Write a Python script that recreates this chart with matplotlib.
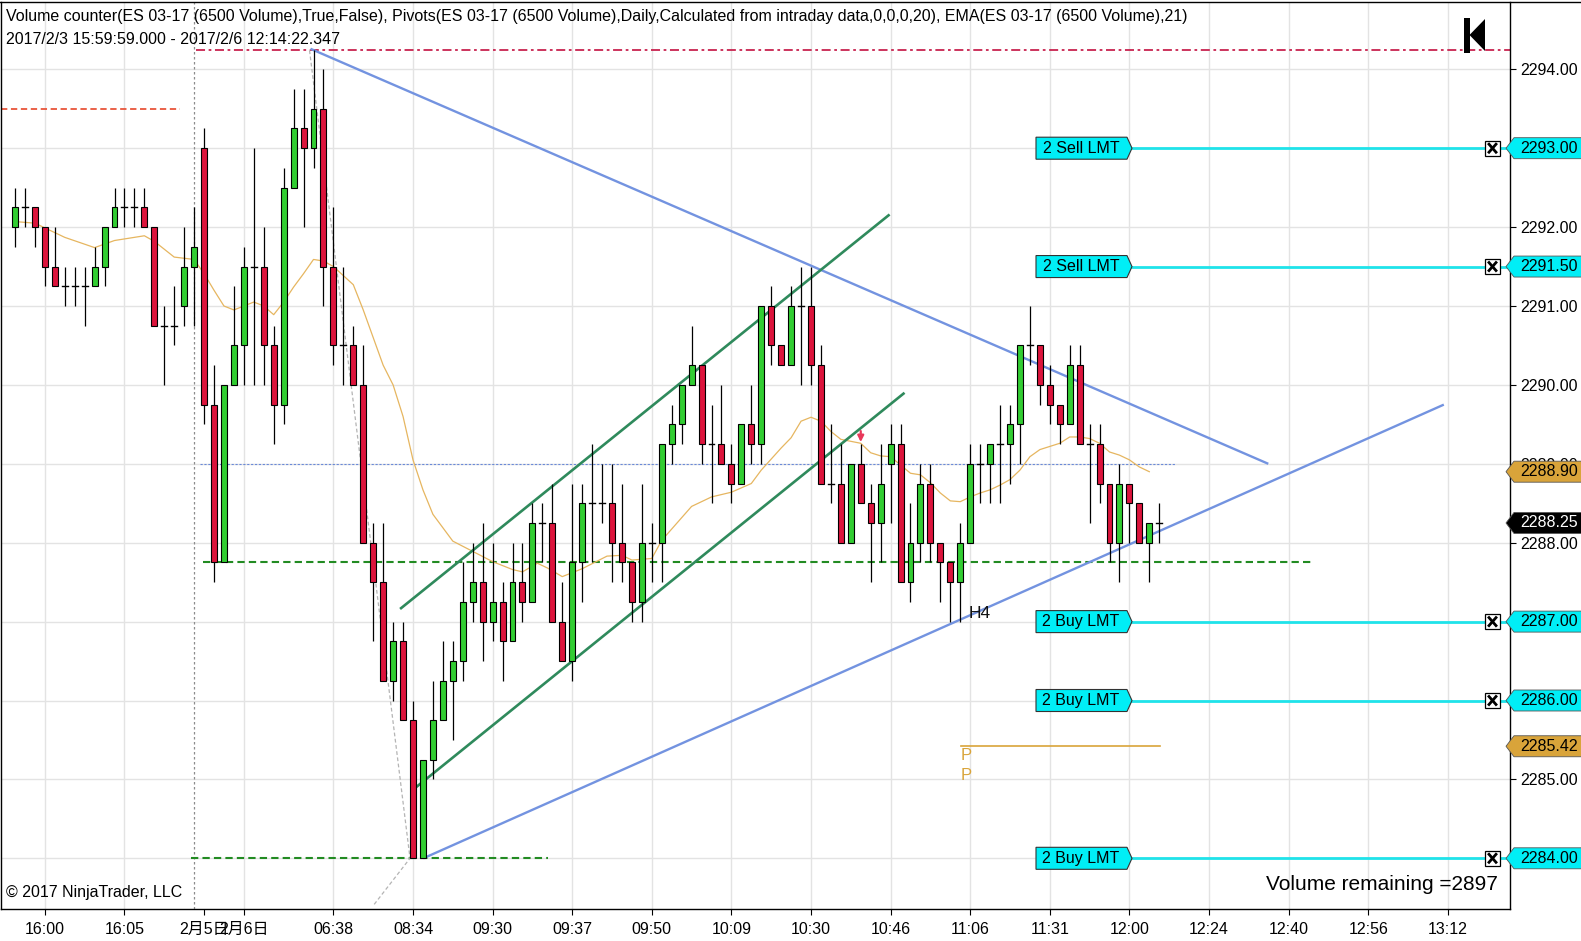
import matplotlib
matplotlib.use('Agg')
import matplotlib.pyplot as plt
from matplotlib.patches import Polygon, Rectangle

plt.rcParams['font.family'] = ['Liberation Sans', 'Noto Sans CJK SC', 'DejaVu Sans']

# ---- data (one bar per 6500 contracts) ----
opens = [2292.0, 2292.25, 2292.25, 2292.0, 2291.5, 2291.25, 2291.25, 2291.25, 2291.25, 2291.5,
         2292.0, 2292.25, 2292.25, 2292.25, 2292.0, 2290.75, 2290.75, 2291.0, 2291.5, 2293.0,
         2289.75, 2287.75, 2290.0, 2290.5, 2291.5, 2291.5, 2290.5, 2289.75, 2292.5, 2293.25,
         2293.0, 2293.5, 2291.5, 2290.5, 2290.5, 2290.0, 2288.0, 2287.5, 2286.25, 2286.75,
         2285.75, 2284.0, 2285.25, 2285.75, 2286.25, 2286.5, 2287.25, 2287.5, 2287.0, 2287.25,
         2286.75, 2287.5, 2287.25, 2288.25, 2288.25, 2287.0, 2286.5, 2287.75, 2288.5, 2288.5,
         2288.5, 2288.0, 2287.75, 2287.25, 2288.0, 2288.0, 2289.25, 2289.5, 2290.0, 2290.25,
         2289.25, 2289.25, 2289.0, 2288.75, 2289.5, 2289.25, 2291.0, 2290.5, 2290.25, 2291.0,
         2291.0, 2290.25, 2288.75, 2288.75, 2288.0, 2289.0, 2288.5, 2288.25, 2289.0, 2289.25,
         2287.5, 2288.0, 2288.75, 2288.0, 2287.75, 2287.5, 2288.0, 2289.0, 2289.0, 2289.25,
         2289.25, 2289.5, 2290.5, 2290.5, 2290.0, 2289.75, 2289.5, 2290.25, 2289.25, 2289.25,
         2288.75, 2288.0, 2288.75, 2288.5, 2288.0, 2288.25]
highs = [2292.5, 2292.5, 2292.25, 2292.0, 2292.0, 2291.5, 2291.5, 2291.5, 2291.75, 2292.0,
         2292.5, 2292.5, 2292.5, 2292.5, 2292.0, 2291.0, 2291.25, 2292.0, 2292.25, 2293.25,
         2290.25, 2290.0, 2291.25, 2291.75, 2293.0, 2292.0, 2290.75, 2292.75, 2293.75, 2293.75,
         2294.25, 2294.0, 2292.25, 2291.5, 2290.75, 2290.5, 2288.25, 2288.25, 2287.0, 2287.0,
         2286.0, 2285.25, 2286.25, 2286.75, 2286.75, 2287.75, 2288.0, 2288.25, 2288.0, 2287.5,
         2288.0, 2288.0, 2288.5, 2288.5, 2288.75, 2287.5, 2288.75, 2288.75, 2289.25, 2289.0,
         2289.0, 2288.75, 2287.75, 2288.75, 2288.25, 2289.25, 2289.75, 2290.0, 2290.75, 2290.25,
         2289.75, 2290.0, 2289.25, 2289.5, 2290.0, 2291.0, 2291.25, 2290.5, 2291.25, 2291.5,
         2291.5, 2290.5, 2289.5, 2289.25, 2289.0, 2289.25, 2288.75, 2289.25, 2289.5, 2289.5,
         2288.5, 2289.0, 2289.0, 2288.0, 2287.75, 2288.25, 2289.25, 2289.25, 2289.25, 2289.75,
         2289.75, 2290.5, 2291.0, 2290.5, 2290.25, 2289.75, 2290.5, 2290.5, 2289.5, 2289.5,
         2288.75, 2289.0, 2288.75, 2288.5, 2288.25, 2288.5]
lows = [2291.75, 2292.0, 2291.75, 2291.25, 2291.25, 2291.0, 2291.0, 2290.75, 2291.25, 2291.25,
        2292.0, 2292.0, 2292.0, 2292.0, 2290.75, 2290.0, 2290.5, 2290.75, 2290.75, 2289.5,
        2287.5, 2287.75, 2290.0, 2290.0, 2290.0, 2290.0, 2289.25, 2289.5, 2292.5, 2292.0,
        2292.75, 2291.0, 2290.25, 2290.0, 2290.0, 2288.0, 2286.75, 2286.25, 2286.0, 2285.75,
        2284.0, 2284.0, 2285.0, 2285.75, 2285.5, 2286.25, 2287.0, 2286.5, 2286.75, 2286.25,
        2286.75, 2287.0, 2287.25, 2287.75, 2287.0, 2286.5, 2286.25, 2287.25, 2287.75, 2288.25,
        2287.5, 2287.5, 2287.0, 2287.0, 2287.5, 2287.5, 2289.0, 2289.25, 2290.0, 2289.0,
        2288.5, 2289.0, 2288.5, 2288.75, 2289.0, 2289.0, 2290.25, 2290.25, 2290.25, 2290.0,
        2290.0, 2288.75, 2288.5, 2288.0, 2288.0, 2288.5, 2287.5, 2287.75, 2288.25, 2287.5,
        2287.25, 2287.75, 2287.75, 2287.25, 2287.0, 2287.0, 2288.0, 2288.5, 2288.5, 2288.5,
        2288.75, 2289.0, 2290.25, 2289.75, 2289.5, 2289.25, 2289.5, 2289.25, 2288.25, 2288.5,
        2287.75, 2287.5, 2288.0, 2288.0, 2287.5, 2288.0]
closes = [2292.25, 2292.25, 2292.0, 2291.5, 2291.25, 2291.25, 2291.25, 2291.25, 2291.5, 2292.0,
          2292.25, 2292.25, 2292.25, 2292.0, 2290.75, 2290.75, 2290.75, 2291.5, 2291.75, 2289.75,
          2287.75, 2290.0, 2290.5, 2291.5, 2291.5, 2290.5, 2289.75, 2292.5, 2293.25, 2293.0,
          2293.5, 2291.5, 2290.5, 2290.5, 2290.0, 2288.0, 2287.5, 2286.25, 2286.75, 2285.75,
          2284.0, 2285.25, 2285.75, 2286.25, 2286.5, 2287.25, 2287.5, 2287.0, 2287.25, 2286.75,
          2287.5, 2287.25, 2288.25, 2288.25, 2287.0, 2286.5, 2287.75, 2288.5, 2288.5, 2288.5,
          2288.0, 2287.75, 2287.25, 2288.0, 2288.0, 2289.25, 2289.5, 2290.0, 2290.25, 2289.25,
          2289.25, 2289.0, 2288.75, 2289.5, 2289.25, 2291.0, 2290.5, 2290.25, 2291.0, 2291.0,
          2290.25, 2288.75, 2288.75, 2288.0, 2289.0, 2288.5, 2288.25, 2288.75, 2289.25, 2287.5,
          2288.0, 2288.75, 2288.0, 2287.75, 2287.5, 2288.0, 2289.0, 2289.0, 2289.25, 2289.25,
          2289.5, 2290.5, 2290.5, 2290.0, 2289.75, 2289.5, 2290.25, 2289.25, 2289.25, 2288.75,
          2288.0, 2288.75, 2288.5, 2288.0, 2288.25, 2288.25]

# EMA(21) as drawn, sampled at bar positions
ema_bars = [0, 2, 5, 8, 10, 13, 14, 16, 18, 19, 20, 21, 22, 24, 25, 26, 27, 28, 29, 30,
            31, 32, 34, 35, 36, 37, 38, 39, 40, 41, 42, 44, 46, 48, 50, 51, 52.5, 53.5, 55,
            57, 59.5, 61, 62, 64, 65, 68, 70, 72, 74, 75, 77, 78, 79, 80, 81, 82, 83, 85, 86,
            87, 88, 90, 91, 92, 93, 94, 95, 96, 97, 98, 99, 100, 101, 102, 103, 104, 105, 106,
            107, 108, 109, 110, 111, 112, 113, 114]
ema_vals = [2292.07, 2292.05, 2291.87, 2291.74, 2291.83, 2291.89, 2291.82, 2291.62, 2291.59,
            2291.41, 2291.2, 2291.0, 2290.95, 2291.05, 2291.0, 2290.89, 2291.05, 2291.24,
            2291.41, 2291.59, 2291.57, 2291.5, 2291.27, 2290.95, 2290.6, 2290.25, 2290.0,
            2289.6, 2289.05, 2288.67, 2288.36, 2288.02, 2287.89, 2287.76, 2287.66, 2287.63,
            2287.74, 2287.68, 2287.57, 2287.67, 2287.83, 2287.84, 2287.78, 2287.8, 2288.03,
            2288.46, 2288.58, 2288.64, 2288.75, 2288.92, 2289.2, 2289.33, 2289.54, 2289.59,
            2289.54, 2289.41, 2289.31, 2289.26, 2289.14, 2289.1, 2289.09, 2288.88, 2288.86,
            2288.76, 2288.63, 2288.53, 2288.52, 2288.58, 2288.63, 2288.67, 2288.73, 2288.8,
            2288.92, 2289.09, 2289.18, 2289.22, 2289.26, 2289.34, 2289.34, 2289.32, 2289.26,
            2289.15, 2289.11, 2289.05, 2288.96, 2288.9]

tick_bars = [3, 11, 19, 23, 32, 40, 48, 56, 64, 72, 80, 88, 96, 104, 112, 120, 128, 136, 144]
tick_labels = ['16:00', '16:05', '2月5日', '2月6日', '06:38', '08:34', '09:30', '09:37',
               '09:50', '10:09', '10:30', '10:46', '11:06', '11:31', '12:00', '12:24',
               '12:40', '12:56', '13:12']
price_ticks = [2284, 2285, 2286, 2287, 2288, 2289, 2290, 2291, 2292, 2293, 2294]

order_prices = [2293.0, 2291.5, 2287.0, 2286.0, 2284.0]
order_labels = ['2 Sell LMT', '2 Sell LMT', '2 Buy LMT', '2 Buy LMT', '2 Buy LMT']

marker_prices = [2293.00, 2291.50, 2288.90, 2288.25, 2287.00, 2286.00, 2285.42, 2284.00]
marker_kinds = ['order', 'order', 'ema', 'last', 'order', 'order', 'pivot', 'order']

pivot_p = 2285.42
day_high = 2294.25
prior_level = 2293.5
support_1 = 2287.75
support_2 = 2284.0
mid_level = 2289.0

# drawings: (bar, price) end points
down_trend = [(29.7, 2294.26), (125.96, 2289.0)]
up_trend = [(41.04, 2284.0), (143.6, 2289.75)]
chan_upper = [(38.7, 2287.16), (87.9, 2292.16)]
chan_lower = [(40.2, 2284.89), (89.4, 2289.9)]
swing_line = [(29.6, 2294.24), (39.7, 2284.0), (36.0, 2283.4)]

# ---- pixel geometry of the NinjaTrader panel ----
W, H = 1581, 941
X0, X1, YT, YB = 1, 1510, 2, 909
FS = 11.5


def bx(px):
    return (px - 15) / 9.95


def py(y):
    return 2294 - (y - 69.3) / 78.9


GREEN = '#32cd32'
RED = '#dc143c'
CYAN = '#00eef6'
CYAN_LINE = '#1fe3ea'
GOLD = '#d9a43a'

fig = plt.figure(figsize=(W / 100, H / 100), dpi=100)
ax = fig.add_axes([X0 / W, (H - YB) / H, (X1 - X0) / W, (YB - YT) / H])
ax.set_xlim(bx(X0), bx(X1))
ax.set_ylim(py(YB), py(YT))

# grid
for p in price_ticks:
    ax.axhline(p, color='#e3e3e3', lw=1, zorder=0)
for b in tick_bars:
    if b != 19:
        ax.axvline(b, color='#e3e3e3', lw=1, zorder=0)
ax.axvline(18, color='#8c8c8c', lw=0.9, ls=(0, (2, 2)), zorder=1)

# horizontal levels
ax.plot([bx(196), bx(X1)], [day_high, day_high], color='#c8234f', lw=1.3,
        dashes=(5, 2, 1.5, 2), zorder=2)
ax.plot([bx(X0), bx(180)], [prior_level, prior_level], color='#e8553a', lw=1.3,
        dashes=(3.5, 2), zorder=2)
ax.plot([bx(203), bx(1311)], [support_1, support_1], color='#228b22', lw=1.5,
        dashes=(3.5, 2), zorder=2)
ax.plot([bx(191), bx(548)], [support_2, support_2], color='#228b22', lw=1.5,
        dashes=(3.5, 2), zorder=2)
ax.plot([bx(200), bx(1175)], [mid_level, mid_level], color='#6a8ad8', lw=0.8,
        dashes=(2, 1.5), zorder=2)
ax.plot([bx(961), bx(1160)], [pivot_p, pivot_p], color=GOLD, lw=1.2, zorder=2)
ax.text(bx(966), py(756), 'P', color=GOLD, fontsize=12, ha='center', va='center')
ax.text(bx(966), py(775), 'P', color=GOLD, fontsize=12, ha='center', va='center')

# swing line and trend lines
sx, sy = zip(*swing_line)
ax.plot(sx, sy, color='#b4b4b4', lw=0.9, dashes=(3, 2), zorder=2, clip_on=False)
for line, col, lw in [(down_trend, '#7393e0', 1.7), (up_trend, '#7393e0', 1.7),
                      (chan_upper, '#2f8a5c', 1.9), (chan_lower, '#2f8a5c', 1.9)]:
    lx, ly = zip(*line)
    ax.plot(lx, ly, color=col, lw=lw, zorder=4, solid_capstyle='butt')

# EMA
ax.plot(ema_bars, ema_vals, color='#e6b660', lw=0.9, zorder=3)

# candles
bw = 0.6
for i, (o, h, l, c) in enumerate(zip(opens, highs, lows, closes)):
    ax.plot([i, i], [l, h], color='black', lw=0.9, zorder=5, solid_capstyle='butt')
    if o == c:
        ax.plot([i - bw / 2, i + bw / 2], [o, o], color='black', lw=1.0, zorder=6)
    else:
        col = GREEN if c > o else RED
        ax.add_patch(Rectangle((i - bw / 2, min(o, c)), bw, abs(c - o), facecolor=col,
                               edgecolor='black', lw=0.8, zorder=6))

# sell signal arrow
ax.annotate('', xy=(85, 2289.24), xytext=(85, 2289.45),
            arrowprops=dict(arrowstyle='-|>', color='#e8385a', lw=1.6, mutation_scale=9),
            zorder=7)
ax.text(bx(980), py(613), 'H4', fontsize=12.5, ha='center', va='center', color='#111111',
        zorder=7)

# working orders
hh = 11 / 78.9
for p, lab in zip(order_prices, order_labels):
    ax.plot([bx(1132), bx(1508)], [p, p], color=CYAN_LINE, lw=2.0, zorder=7, clip_on=False)
    pts = [(bx(1036), p - hh), (bx(1127), p - hh), (bx(1132), p), (bx(1127), p + hh),
           (bx(1036), p + hh)]
    ax.add_patch(Polygon(pts, closed=True, facecolor=CYAN, edgecolor='#333333', lw=0.8,
                         zorder=8))
    ax.text(bx(1081), p, lab, fontsize=FS, ha='center', va='center', zorder=9)
    s = 7.5 / 78.9
    ax.add_patch(Rectangle((bx(1485), p - s), bx(1500) - bx(1485), 2 * s, facecolor='white',
                           edgecolor='black', lw=0.9, zorder=9))
    d = 4 / 78.9
    ax.plot([bx(1489), bx(1496)], [p - d, p + d], color='black', lw=2.0, zorder=10)
    ax.plot([bx(1489), bx(1496)], [p + d, p - d], color='black', lw=2.0, zorder=10)

# K (jump to end) icon
ax.add_patch(Rectangle((bx(1463.5), py(52.5)), bx(1469.5) - bx(1463.5), py(17.5) - py(52.5),
                       facecolor='black', edgecolor='none', zorder=9))
ax.add_patch(Polygon([(bx(1469.5), py(35)), (bx(1485), py(19)), (bx(1485), py(51))],
                     closed=True, facecolor='black', edgecolor='none', zorder=9))

# axes styling
ax.yaxis.tick_right()
ax.set_yticks(price_ticks)
ax.set_yticklabels([f'{p:.2f}' for p in price_ticks])
ax.set_xticks(tick_bars)
ax.set_xticklabels(tick_labels)
ax.tick_params(axis='y', direction='out', length=4.5, width=0.8, pad=3, labelsize=FS)
ax.tick_params(axis='x', direction='out', length=4.5, width=0.8, pad=5, labelsize=FS)
for side in ['left', 'right', 'bottom']:
    ax.spines[side].set_color('black')
    ax.spines[side].set_linewidth(1.0)
ax.spines['top'].set_visible(False)
fig.add_artist(plt.Line2D([0, 1], [1 - 1.5 / H, 1 - 1.5 / H], color='black', lw=1.0,
                          transform=fig.transFigure))

# price markers on the axis
mh = 10.5 / 78.9
for p, kind in zip(marker_prices, marker_kinds):
    fc = {'order': CYAN, 'ema': GOLD, 'pivot': GOLD, 'last': 'black'}[kind]
    tc = 'white' if kind == 'last' else 'black'
    pts = [(bx(1506), p), (bx(1514), p - mh), (bx(1585), p - mh), (bx(1585), p + mh),
           (bx(1514), p + mh)]
    ax.add_patch(Polygon(pts, closed=True, facecolor=fc, edgecolor='#555555', lw=0.6,
                         zorder=20, clip_on=False))
    ax.text(bx(1520), p, f'{p:.2f}', fontsize=FS, color=tc, ha='left', va='center',
            zorder=21, clip_on=False)

# texts
fig.text(6 / W, 1 - 16 / H,
         'Volume counter(ES 03-17 (6500 Volume),True,False), Pivots(ES 03-17 (6500 Volume),'
         'Daily,Calculated from intraday data,0,0,0,20), EMA(ES 03-17 (6500 Volume),21)',
         fontsize=FS, ha='left', va='center')
fig.text(6 / W, 1 - 39 / H, '2017/2/3 15:59:59.000 - 2017/2/6 12:14:22.347',
         fontsize=FS, ha='left', va='center')
fig.text(6 / W, 1 - 893 / H, '\u00a9 2017 NinjaTrader, LLC', fontsize=FS, ha='left',
         va='center')
fig.text(1498 / W, 1 - 885 / H, 'Volume remaining =2897', fontsize=15, ha='right',
         va='center')

fig.savefig('out.png', dpi=100)
